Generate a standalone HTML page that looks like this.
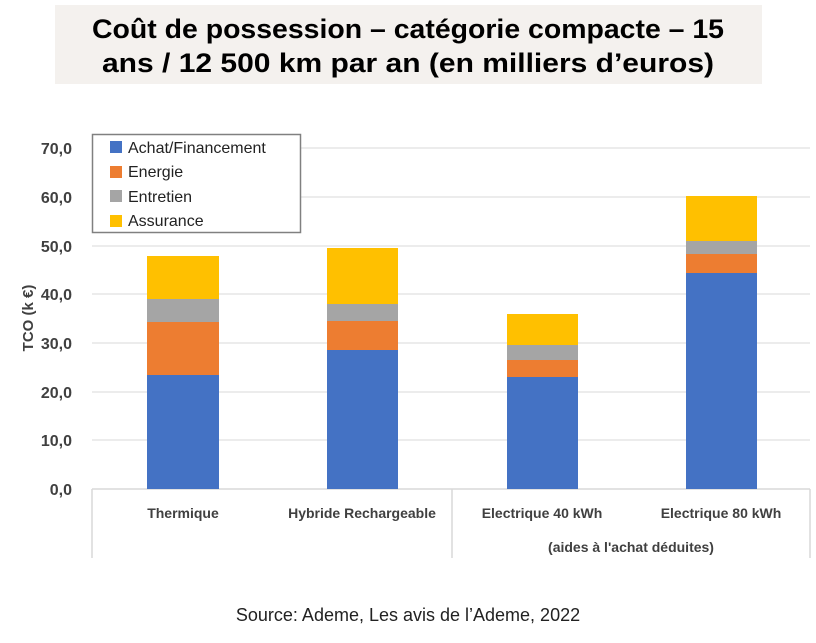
<!DOCTYPE html>
<html><head><meta charset="utf-8"><style>
body{margin:0;background:#fff;}
svg{display:block;font-family:"Liberation Sans",sans-serif;}
</style></head><body>
<svg width="816" height="643" viewBox="0 0 816 643">
<rect x="55" y="5" width="707" height="79" fill="#f4f1ee"/>
<text x="408" y="38" text-anchor="middle" font-size="27" font-weight="bold" fill="#000" textLength="632" lengthAdjust="spacingAndGlyphs">Coût de possession – catégorie compacte – 15</text>
<text x="408" y="72" text-anchor="middle" font-size="27" font-weight="bold" fill="#000" textLength="612" lengthAdjust="spacingAndGlyphs">ans / 12 500 km par an (en milliers d’euros)</text>
<g stroke="#e6e6e6" stroke-width="1.5">
<line x1="92" x2="810" y1="148" y2="148"/><line x1="92" x2="810" y1="197" y2="197"/>
<line x1="92" x2="810" y1="246" y2="246"/><line x1="92" x2="810" y1="294" y2="294"/>
<line x1="92" x2="810" y1="343" y2="343"/><line x1="92" x2="810" y1="392" y2="392"/>
<line x1="92" x2="810" y1="440" y2="440"/>
</g>
<g stroke="#d9d9d9" stroke-width="1.5">
<line x1="92" x2="810" y1="489" y2="489"/>
<line x1="92" x2="92" y1="489" y2="558"/>
<line x1="452" x2="452" y1="489" y2="558"/>
<line x1="810" x2="810" y1="489" y2="558"/>
</g>
<g font-size="16" font-weight="bold" fill="#404040" text-anchor="end">
<text x="72" y="154">70,0</text><text x="72" y="203">60,0</text><text x="72" y="252">50,0</text>
<text x="72" y="300">40,0</text><text x="72" y="349">30,0</text><text x="72" y="398">20,0</text>
<text x="72" y="446">10,0</text><text x="72" y="495">0,0</text>
</g>
<text transform="translate(33,318) rotate(-90)" text-anchor="middle" font-size="15" font-weight="bold" fill="#404040">TCO (k €)</text>
<g>
<rect x="147" y="375" width="72" height="114" fill="#4472c4"/><rect x="147" y="322" width="72" height="53" fill="#ed7d31"/><rect x="147" y="299" width="72" height="23" fill="#a5a5a5"/><rect x="147" y="256" width="72" height="43" fill="#ffc000"/>
<rect x="327" y="350" width="71" height="139" fill="#4472c4"/><rect x="327" y="321" width="71" height="29" fill="#ed7d31"/><rect x="327" y="304" width="71" height="17" fill="#a5a5a5"/><rect x="327" y="248" width="71" height="56" fill="#ffc000"/>
<rect x="507" y="377" width="71" height="112" fill="#4472c4"/><rect x="507" y="360" width="71" height="17" fill="#ed7d31"/><rect x="507" y="345" width="71" height="15" fill="#a5a5a5"/><rect x="507" y="314" width="71" height="31" fill="#ffc000"/>
<rect x="686" y="273" width="71" height="216" fill="#4472c4"/><rect x="686" y="254" width="71" height="19" fill="#ed7d31"/><rect x="686" y="241" width="71" height="13" fill="#a5a5a5"/><rect x="686" y="196" width="71" height="45" fill="#ffc000"/>
</g>
<g font-size="14" fill="#404040" text-anchor="middle" font-weight="bold">
<text x="183" y="518">Thermique</text>
<text x="362" y="518">Hybride Rechargeable</text>
<text x="542" y="518">Electrique 40 kWh</text>
<text x="721" y="518">Electrique 80 kWh</text>
<text x="631" y="552">(aides à l'achat déduites)</text>
</g>
<rect x="92.5" y="134.5" width="208" height="98" fill="#fff" stroke="#808080" stroke-width="1.5"/>
<rect x="110" y="141" width="12" height="12" fill="#4472c4"/>
<rect x="110" y="166" width="12" height="12" fill="#ed7d31"/>
<rect x="110" y="190" width="12" height="12" fill="#a5a5a5"/>
<rect x="110" y="215" width="12" height="12" fill="#ffc000"/>
<g font-size="16" fill="#222">
<text x="128" y="153">Achat/Financement</text>
<text x="128" y="177">Energie</text>
<text x="128" y="202">Entretien</text>
<text x="128" y="226">Assurance</text>
</g>
<text x="408" y="621" text-anchor="middle" font-size="18" fill="#222">Source: Ademe, Les avis de l’Ademe, 2022</text>
</svg>
</body></html>
